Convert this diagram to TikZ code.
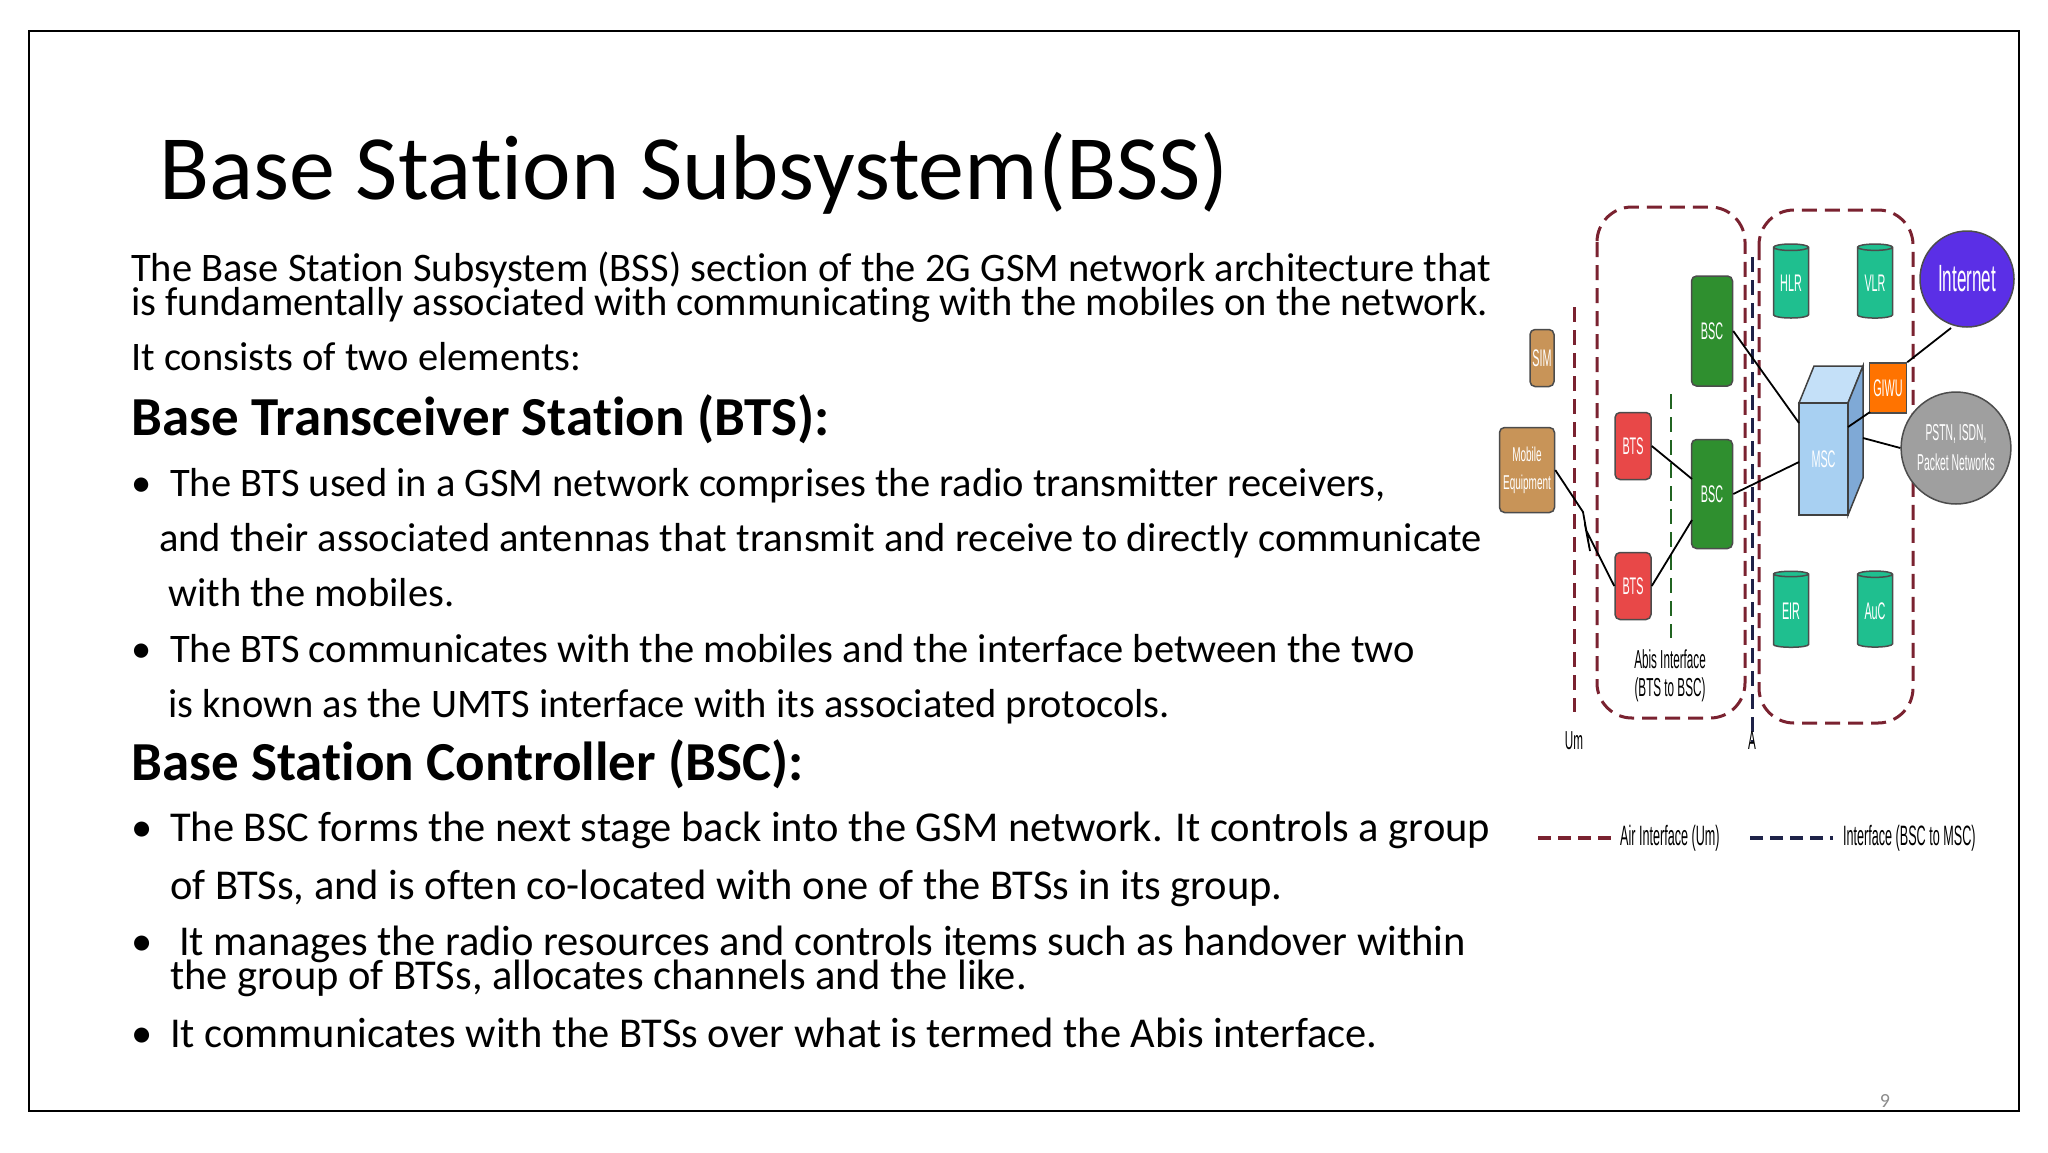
\documentclass[tikz,border=0pt]{standalone}
\usepackage{fontspec}
\setmainfont{Carlito}[RawFeature=-liga]
\newfontfamily\diafont{Liberation Sans}
\usetikzlibrary{shapes.geometric}
\definecolor{dred}{HTML}{7A2230}
\definecolor{dnavy}{HTML}{1E2248}
\definecolor{gbox}{HTML}{2F8F2F}
\definecolor{rbox}{HTML}{E84848}
\definecolor{cyl}{HTML}{1FBF8F}
\definecolor{tan}{HTML}{C89458}
\definecolor{net}{HTML}{5B2FE6}
\definecolor{cfront}{HTML}{A8D0F2}
\definecolor{ctop}{HTML}{C4E0F8}
\definecolor{cside}{HTML}{7FA9D6}
\newcommand{\nar}[1]{\scalebox{0.45}[1]{#1}}
\begin{document}
\begin{tikzpicture}[x=1pt,y=-1pt,
  txt/.style={anchor=base west,inner sep=0pt,font=\fontsize{40.5}{44}\selectfont},
  hd/.style={anchor=base west,inner sep=0pt,font=\fontsize{55}{60}\selectfont\bfseries},
  bul/.style={anchor=base west,inner sep=0pt,font=\fontsize{40.5}{44}\selectfont},
  bulb/.style={anchor=base west,inner sep=0pt,font=\fontsize{42.5}{44}\selectfont},
  box/.style={draw=black!70,line width=1.5pt,rounded corners=5pt,inner sep=0pt,text=white,font=\diafont\fontsize{24}{26}\selectfont},
  cy/.style={cylinder,shape border rotate=90,aspect=0.3,draw=black!70,line width=1.5pt,fill=cyl,minimum width=35,minimum height=74,inner sep=0pt,text=white,font=\diafont\fontsize{24}{26}\selectfont},
  rdash/.style={draw=dred,line width=3pt,dash pattern=on 15pt off 8pt},
  ndash/.style={draw=dnavy,line width=3pt,dash pattern=on 15pt off 8pt},
  con/.style={draw=black,line width=1.8pt},
  dl/.style={inner sep=0pt,font=\diafont\fontsize{26}{26}\selectfont}]
\useasboundingbox (0,0) rectangle (2048,1152);
\fill[white] (0,0) rectangle (2048,1152);
\draw[line width=1.5pt] (29,31) rectangle (2019,1111);
\node[anchor=base west,inner sep=0pt,font=\fontsize{92}{94}\selectfont] (title) at (159,199) {Base Station Subsystem(BSS)};
\node[txt] (l1) at (131,281) {The Base Station Subsystem (BSS) section of the 2G GSM network architecture that};
\node[txt] (l2) at (131,315) {is fundamentally associated with communicating with the mobiles on the network.};
\node[txt] (l3) at (131,370) {It consists of two elements:};
\node[hd] (h1) at (131,435) {Base Transceiver Station (BTS):};
\node[bul] (b1d) at (131,496) {•};
\node[bul] (b1) at (170,496) {The BTS used in a GSM network comprises the radio transmitter receivers,};
\node[bul] (b1b) at (159,551) {and their associated antennas that transmit and receive to directly communicate};
\node[bul] (b1c) at (168,606) {with the mobiles.};
\node[bul] (b2d) at (131,662) {•};
\node[bul] (b2) at (170,662) {The BTS communicates with the mobiles and the interface between the two};
\node[bul] (b2b) at (168,717) {is known as the UMTS interface with its associated protocols.};
\node[hd] (h2) at (131,780) {Base Station Controller (BSC):};
\node[bulb] (b3d) at (131,841) {•};
\node[bulb] (b3) at (170,841) {The BSC forms the next stage back into the GSM network. It controls a group};
\node[bulb] (b3b) at (170,899) {of BTSs, and is often co-located with one of the BTSs in its group.};
\node[bulb] (b4d) at (131,955) {•};
\node[bulb] (b4) at (179,955) {It manages the radio resources and controls items such as handover within};
\node[bulb] (b4b) at (170,989) {the group of BTSs, allocates channels and the like.};
\node[bulb] (b5d) at (131,1047) {•};
\node[bulb] (b5) at (170,1047) {It communicates with the BTSs over what is termed the Abis interface.};
\node[anchor=base,inner sep=0pt,text=black!45,font=\fontsize{20}{20}\selectfont] (pg) at (1885,1107) {9};
% diagram
\draw[rdash,rounded corners=35pt] (1597,207) rectangle (1745,718);
\draw[rdash,rounded corners=35pt] (1759,210) rectangle (1913,723);
\draw[rdash] (1574,307) -- (1574,712);
\draw[draw=gbox!70!black,line width=2.5pt,dash pattern=on 15pt off 8pt] (1671,394) -- (1671,638);
\draw[ndash] (1752,257) -- (1752,742);
\node[dl] (um) at (1574,741) {\nar{Um}};
\node[dl] (alab) at (1752,741) {\nar{A}};
\node[dl,align=center,font=\diafont\fontsize{26}{28}\selectfont] (abis) at (1670,676) {\nar{Abis Interface}\\\nar{(BTS to BSC)}};
\node[box,fill=tan,minimum width=24,minimum height=57] (sim) at (1542,358) {\nar{SIM}};
\node[box,fill=tan,minimum width=55,minimum height=85,align=center,font=\diafont\fontsize{20}{28}\selectfont] (me) at (1527,470) {\scalebox{0.5}[1]{Mobile}\\\scalebox{0.5}[1]{Equipment}};
\node[box,fill=rbox,minimum width=36,minimum height=67] (bts1) at (1633,446) {\nar{BTS}};
\node[box,fill=rbox,minimum width=36,minimum height=67] (bts2) at (1633,586) {\nar{BTS}};
\node[box,fill=gbox,minimum width=41,minimum height=110] (bsc1) at (1712,331) {\nar{BSC}};
\node[box,fill=gbox,minimum width=41,minimum height=109] (bsc2) at (1712,494) {\nar{BSC}};
\node[cy] (hlr) at (1791,283) {\nar{HLR}};
\node[cy] (vlr) at (1875,283) {\nar{VLR}};
\node[cy,minimum height=76] (eir) at (1791,611) {\nar{EIR}};
\node[cy,minimum height=76] (auc) at (1875,611) {\nar{AuC}};
% MSC cube
\filldraw[fill=ctop,draw=black!75,line width=1.5pt] (1799,403) -- (1814,366) -- (1863,366) -- (1848,403) -- cycle;
\filldraw[fill=cside,draw=black!75,line width=1.5pt] (1848,403) -- (1863,366) -- (1863,478) -- (1848,515) -- cycle;
\node[draw=black!75,line width=1.5pt,fill=cfront,minimum width=49,minimum height=112,inner sep=0pt,text=white,font=\diafont\fontsize{24}{26}\selectfont] (msc) at (1823.5,459) {\nar{MSC}};
\node[box,rounded corners=0pt,fill=orange!90!red,minimum width=37,minimum height=50] (giwu) at (1888,388) {\nar{GIWU}};
\node[ellipse,draw=black!70,line width=1.5pt,fill=net,minimum width=94,minimum height=96,inner sep=0pt,text=white,font=\diafont\fontsize{38}{38}\selectfont] (inet) at (1967,279) {\nar{Internet}};
\node[ellipse,draw=black!70,line width=1.5pt,fill=gray!75,minimum width=102,minimum height=112,inner sep=0pt,text=white,align=center,font=\diafont\fontsize{23}{30}\selectfont] (pstn) at (1956,448) {\nar{PSTN, ISDN,}\\\nar{Packet Networks}};
\draw[con] (me.east) -- (1583,512) -- (1590,551) -- (1586,530) -- (bts2.west);
\draw[con] (bts1.east) -- (1692,479);
\draw[con] (bts2.east) -- (1692,520);
\draw[con] (bsc1.east) -- (1799,423);
\draw[con] (bsc2.east) -- (1799,462);
\draw[con] (1848,427) -- (1870,412);
\draw[con] (1863,438) -- (pstn.west);
\draw[con] (giwu.north east) -- (1951,328);
% legend
\coordinate (lr1) at (1538,838); \coordinate (lr2) at (1615,838);
\coordinate (ln1) at (1750,838); \coordinate (ln2) at (1833,838);
\draw[rdash,line width=3.5pt,dash pattern=on 13pt off 7pt] (lr1) -- (lr2);
\draw[ndash,line width=3.5pt,dash pattern=on 13pt off 7pt] (ln1) -- (ln2);
\node[dl,anchor=west,font=\diafont\fontsize{28}{28}\selectfont] (leg1) at (1620,838) {\nar{Air Interface (Um)}};
\node[dl,anchor=west,font=\diafont\fontsize{28}{28}\selectfont] (leg2) at (1843,838) {\nar{Interface (BSC to MSC)}};
\end{tikzpicture}
\end{document}
